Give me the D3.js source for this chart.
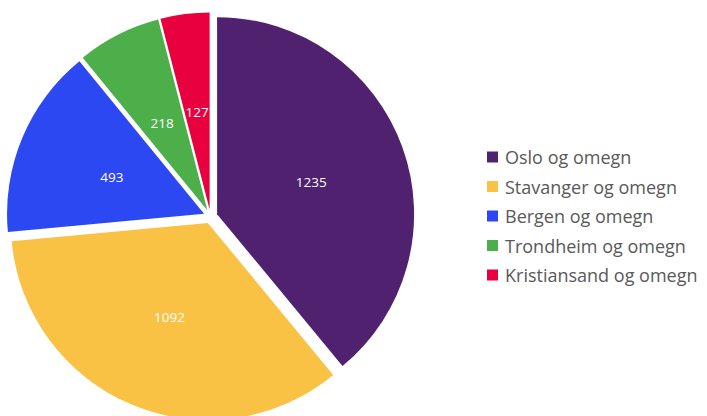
<!DOCTYPE html>
<html><head><meta charset="utf-8">
<script src="https://cdn.jsdelivr.net/npm/d3@7"></script>
<style>body{margin:0;background:#fff}svg{display:block}</style>
</head><body>
<svg id="c" width="707" height="416"></svg>
<script>
const categories = ["Oslo og omegn","Stavanger og omegn","Bergen og omegn","Trondheim og omegn","Kristiansand og omegn"];
const values = [1235,1092,493,218,127];
const colors = ["#50216f","#f9c244","#2b48f2","#4daf4a","#e9003f"];

const svg = d3.select("#c");
const cx = 210.5, cy = 216.5, r = 197, explode = 7, labelR = 100;
const pie = d3.pie().sort(null).value(d => d)(values);
const arc = d3.arc().innerRadius(0).outerRadius(r);
const g = svg.append("g").attr("transform", `translate(${cx},${cy})`);
pie.forEach((p, i) => {
  const mid = (p.startAngle + p.endAngle) / 2;
  const ox = Math.sin(mid) * explode, oy = -Math.cos(mid) * explode;
  const sg = g.append("g").attr("transform", `translate(${ox},${oy})`);
  sg.append("path").attr("d", arc(p)).attr("fill", colors[i]);
  sg.append("text")
    .attr("x", Math.sin(mid) * labelR).attr("y", -Math.cos(mid) * labelR + 2)
    .attr("text-anchor", "middle").attr("dominant-baseline", "central")
    .attr("fill", "#fff").attr("font-family", "'Open Sans', sans-serif").attr("font-size", 13.5)
    .text(values[i]);
});

const lg = svg.append("g");
categories.forEach((c, i) => {
  const y = 157 + i * 29.5;
  lg.append("rect").attr("x", 487).attr("y", y - 5.5).attr("width", 11).attr("height", 11).attr("fill", colors[i]);
  lg.append("text").attr("x", 505).attr("y", y).attr("dominant-baseline", "central")
    .attr("fill", "#595959").attr("font-family", "'Open Sans', sans-serif").attr("font-size", 18)
    .text(c);
});
</script>
</body></html>
